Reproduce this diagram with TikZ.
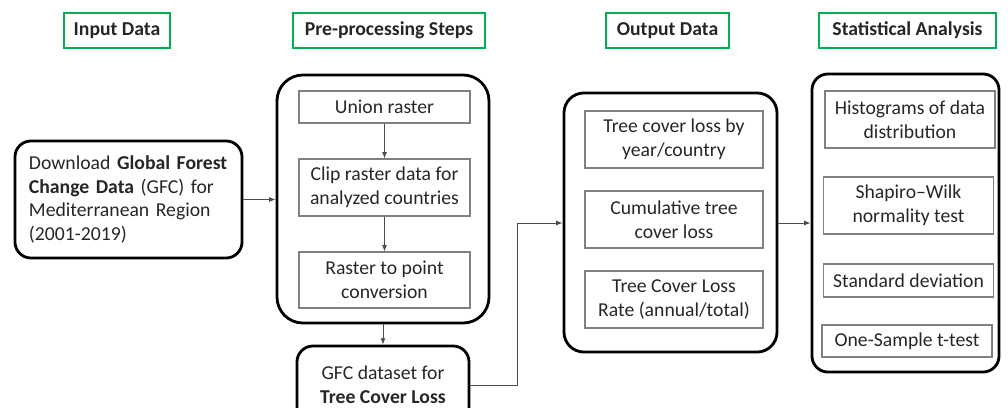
\documentclass[tikz,border=0pt]{standalone}
\usepackage{fontspec}
\setmainfont{Carlito}
\usetikzlibrary{arrows.meta}

\definecolor{hdrgreen}{RGB}{0,176,80}
\definecolor{txtgray}{RGB}{38,38,38}

\newcommand{\diagfont}{\fontsize{14}{17}\selectfont}

\tikzset{
  header/.style={draw=hdrgreen, line width=2pt, minimum height=0.875cm, inner sep=0pt, font=\diagfont\bfseries},
  group/.style={draw=black, line width=2pt, rounded corners=0.55cm, inner sep=0pt, align=center},
  substep/.style={draw=gray, line width=0.8pt, inner sep=0pt, align=center},
  link/.style={-{Latex[length=4.5pt,width=3.5pt]}, draw=gray!60!black, line width=0.6pt}
}

\begin{document}
\begin{tikzpicture}[x=0.025cm, y=-0.025cm, font=\diagfont, text=txtgray]
    \useasboundingbox (0,0) rectangle (1008,408);

    % column headers
    \node[header, minimum width=2.65cm]  (hinput) at (117,30.5)   {Input Data};
    \node[header, minimum width=4.8cm]   (hprep)  at (389,30.5)   {Pre-processing Steps};
    \node[header, minimum width=3.075cm] (hout)   at (667.5,30.5) {Output Data};
    \node[header, minimum width=4.425cm] (hstat)  at (907.5,30.5) {Statistical Analysis};

    % input block
    \node[group, rounded corners=0.4cm, minimum width=5.675cm, minimum height=2.925cm,
          align=left, text width=4.975cm, inner xsep=0.35cm] (input) at (128.5,199.5)
      {Download \textbf{Global Forest}\\\textbf{Change Data} (GFC) for\\Mediterranean Region\\(2001-2019)};

    % pre-processing block
    \node[group, rounded corners=0.65cm, minimum width=5.3cm, minimum height=6.2cm] (prep) at (383,199) {};
    \node[substep, minimum width=4.275cm, minimum height=0.8cm]   (union) at (384.5,107)   {Union raster};
    \node[substep, minimum width=4.275cm, minimum height=1.425cm] (clip)  at (384.5,187.5) {Clip raster data for\\analyzed countries};
    \node[substep, minimum width=4.275cm, minimum height=1.4cm]   (topt)  at (384.5,280)   {Raster to point\\conversion};

    % dataset
    \node[group, rounded corners=0.4cm, minimum width=4.3cm, minimum height=1.95cm] (gfc) at (383,385)
      {GFC dataset for\\\textbf{Tree Cover Loss}};

    % output block
    \node[group, rounded corners=0.5cm, minimum width=5.325cm, minimum height=6.475cm] (out) at (670.5,222.5) {};
    \node[substep, minimum width=4.45cm, minimum height=1.425cm] (bycountry) at (674,139.5) {Tree cover loss by\\year/country};
    \node[substep, minimum width=4.45cm, minimum height=1.425cm] (cumul)     at (674,219.5) {Cumulative tree\\cover loss};
    \node[substep, minimum width=4.45cm, minimum height=1.425cm] (lossrate)  at (674,299.5) {Tree Cover Loss\\Rate (annual/total)};

    % statistics block
    \node[group, rounded corners=0.4cm, minimum width=4.675cm, minimum height=7.45cm] (stat) at (905.5,223) {};
    \node[substep, minimum width=4.25cm, minimum height=1.425cm] (hist)    at (910,119.5) {Histograms of data\\distribution};
    \node[substep, minimum width=4.25cm, minimum height=1.425cm] (shapiro) at (908.5,205.5) {Shapiro--Wilk\\normality test};
    \node[substep, minimum width=4.25cm, minimum height=0.825cm] (stdev)   at (908.5,280.5) {Standard deviation};
    \node[substep, minimum width=4.25cm, minimum height=0.8cm]   (ttest)   at (907,341)   {One-Sample t-test};

    % connectors
    \coordinate (bend) at (517,223);
    \draw[link] (input.east) -- (input.east -| prep.west);
    \draw[link] (union) -- (clip);
    \draw[link] (clip) -- (topt);
    \draw[link] (prep.south) -- (gfc.north);
    \draw[link] (gfc.east) -| (bend) -- (bend -| out.west);
    \draw[link] (out.east |- bend) -- (bend -| stat.west);
  \end{tikzpicture}
\end{document}
